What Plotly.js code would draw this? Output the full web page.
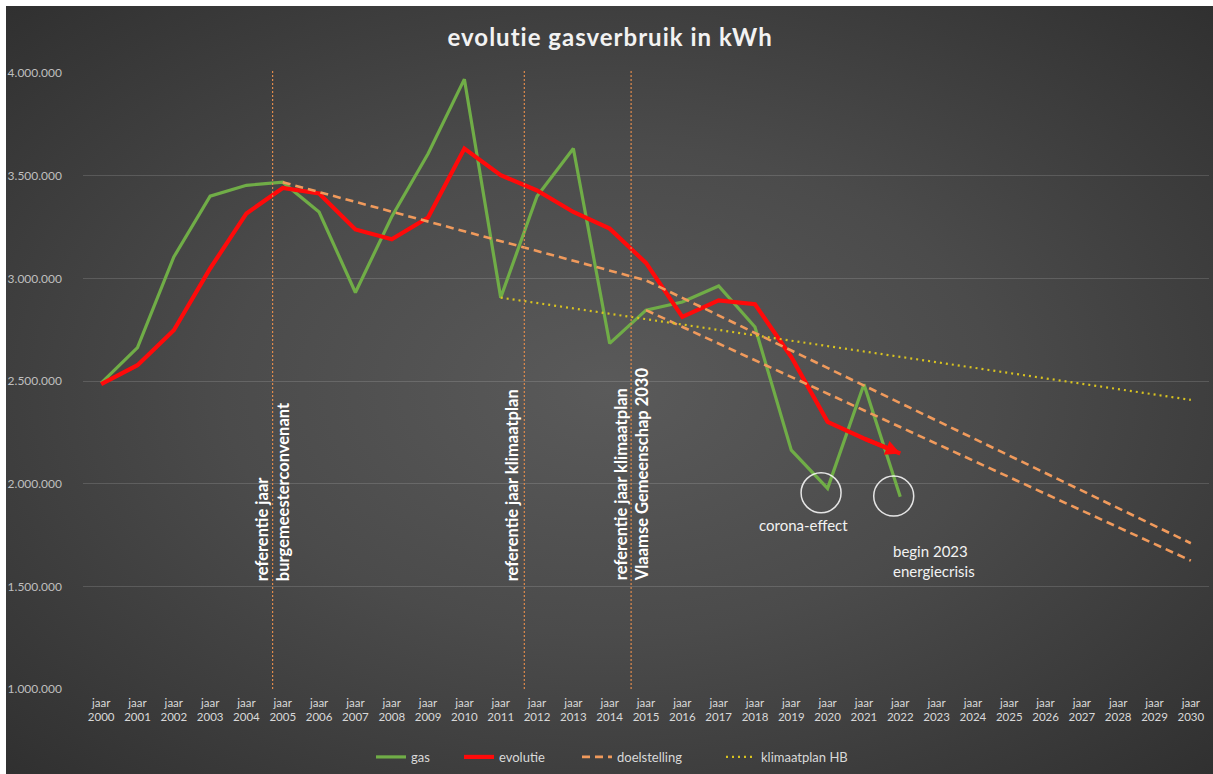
<!DOCTYPE html>
<html><head><meta charset="utf-8">
<script src="https://cdn.plot.ly/plotly-3.0.1.min.js"></script>
<style>
html,body{margin:0;padding:0;background:#fff;width:1213px;height:774px;overflow:hidden}
#bg{position:absolute;left:6px;top:6px;width:1207px;height:768px;background:radial-gradient(ellipse at 50% 50%, #5a5a5a 0%, #4b4b4b 45%, #303030 100%)}
#chart{position:absolute;left:0;top:0;width:1213px;height:774px}
</style></head><body>
<div id="bg"></div><div id="chart"></div>
<script>
// categories
const years = [2000,2001,2002,2003,2004,2005,2006,2007,2008,2009,2010,2011,2012,2013,2014,2015,2016,2017,2018,2019,2020,2021,2022,2023,2024,2025,2026,2027,2028,2029,2030];
const dataYears = [2000,2001,2002,2003,2004,2005,2006,2007,2008,2009,2010,2011,2012,2013,2014,2015,2016,2017,2018,2019,2020,2021,2022];
// series
const gas = [2490000,2663000,3104000,3400000,3453000,3468000,3323000,2931000,3300000,3607000,3970000,2906000,3400000,3632000,2683000,2845000,2885000,2963000,2763000,2163000,1977000,2484000,1936000];
const evolutie = [2485000,2577000,2747000,3048000,3316000,3440000,3413000,3238000,3190000,3296000,3632000,3502000,3428000,3323000,3242000,3075000,2812000,2893000,2874000,2617000,2301000,2220000,2147000];
const doelYearsA = [2005,2015,2030];
const doelA = [3468000,2990000,1710000];
const doelYearsB = [2015,2030];
const doelB = [2845000,1625000];
const klimYears = [2011,2030];
const klim = [2906000,2408000];
// reference year markers
const refYears = [2004.72, 2011.65, 2014.59];
const refTexts = ['referentie jaar<br>burgemeesterconvenant','referentie jaar klimaatplan','referentie jaar klimaatplan<br>Vlaamse Gemeenschap 2030'];
// tick labels
const yTicks = [1000000,1500000,2000000,2500000,3000000,3500000,4000000];
const yTickText = ['1.000.000','1.500.000','2.000.000','2.500.000','3.000.000','3.500.000','4.000.000'];
const xTickText = years.map(y => 'jaar<br>' + y);

const F = 'Lato, "Open Sans", sans-serif';
const RED = '#ff0a0a';
const last = evolutie.length - 1;

const traces = [
  {x: dataYears, y: gas, name: 'gas', mode: 'lines', legend: 'legend', line: {color: '#70ad47', width: 3.2}},
  {x: dataYears, y: evolutie, name: 'evolutie', mode: 'lines', legend: 'legend2', line: {color: RED, width: 4.2}},
  {x: doelYearsA, y: doelA, name: 'doelstelling', mode: 'lines', legend: 'legend3', legendgroup: 'd',
   line: {color: '#f09a5c', width: 2.6, dash: '8px,5px'}},
  {x: doelYearsB, y: doelB, name: 'doelstelling', mode: 'lines', legend: 'legend3', legendgroup: 'd', showlegend: false,
   line: {color: '#f09a5c', width: 2.6, dash: '8px,5px'}},
  {x: klimYears, y: klim, name: 'klimaatplan HB', mode: 'lines', legend: 'legend4',
   line: {color: '#d8c320', width: 2.2, dash: '2px,4px'}}
];

const shapes = refYears.map(x => ({type: 'line', xref: 'x', yref: 'paper', x0: x, x1: x, y0: 0, y1: 1.006,
  line: {color: '#e08a4c', width: 1.2, dash: '2px,2px'}}));
shapes.push({type: 'circle', xref: 'x', yref: 'y', xsizemode: 'pixel', ysizemode: 'pixel',
  xanchor: 2019.82, yanchor: 1955700, x0: -20, x1: 20, y0: -20, y1: 20, line: {color: 'rgba(255,255,255,0.85)', width: 1.5}});
shapes.push({type: 'circle', xref: 'x', yref: 'y', xsizemode: 'pixel', ysizemode: 'pixel',
  xanchor: 2021.82, yanchor: 1939600, x0: -20, x1: 20, y0: -20, y1: 20, line: {color: 'rgba(255,255,255,0.85)', width: 1.5}});

const annFont = {family: F, size: 16.5, color: '#ffffff', weight: 'bold'};
const annotations = [
  {x: refYears[0], y: 1516000, xref: 'x', yref: 'y', text: refTexts[0], textangle: -90, showarrow: false,
   xanchor: 'center', yanchor: 'bottom', align: 'left', font: annFont},
  {x: refYears[1], y: 1516000, xref: 'x', yref: 'y', text: refTexts[1], textangle: -90, showarrow: false,
   xanchor: 'right', yanchor: 'bottom', align: 'left', xshift: 0, font: annFont},
  {x: refYears[2], y: 1516000, xref: 'x', yref: 'y', text: refTexts[2], textangle: -90, showarrow: false,
   xanchor: 'center', yanchor: 'bottom', align: 'left', font: annFont},
  {x: 2019.33, y: 1798000, xref: 'x', yref: 'y', text: 'corona-effect', showarrow: false,
   xanchor: 'center', yanchor: 'middle', font: {family: F, size: 15, color: '#f2f2f2'}},
  {x: 2021.75, y: 1623000, xref: 'x', yref: 'y', text: 'begin 2023<br>energiecrisis', showarrow: false,
   xanchor: 'left', yanchor: 'middle', align: 'left', font: {family: F, size: 15, color: '#f2f2f2'}},
  // arrowhead at the end of the evolutie line
  {x: dataYears[last], y: evolutie[last], ax: dataYears[last-1], ay: evolutie[last-1], xref: 'x', yref: 'y', axref: 'x', ayref: 'y',
   text: '', showarrow: true, arrowhead: 2, arrowsize: 0.7, arrowwidth: 4.2, arrowcolor: RED, standoff: 0}
];

function leg(px) {
  return {orientation: 'h', x: px / 1213, xref: 'container', xanchor: 'left', y: 0.022, yref: 'container', yanchor: 'middle',
    font: {family: F, size: 13, color: '#d9d9d9'}, bgcolor: 'rgba(0,0,0,0)', itemwidth: 30, borderwidth: 0};
}

const layout = {
  width: 1213, height: 774,
  paper_bgcolor: 'rgba(0,0,0,0)', plot_bgcolor: 'rgba(0,0,0,0)',
  margin: {l: 83, r: 4, t: 73, b: 85},
  title: {text: '<span style="letter-spacing:1px">evolutie gasverbruik in kWh</span>', x: 0.503, xref: 'container', y: 0.952, yref: 'container', yanchor: 'middle',
    font: {family: F, size: 24, color: '#f2f2f2', weight: 'bold'}},
  xaxis: {range: [1999.5, 2030.5], tickmode: 'array', tickvals: years, ticktext: xTickText,
    showgrid: false, zeroline: false, showline: false, ticks: '', ticklabelstandoff: 5,
    tickfont: {family: F, size: 11.5, color: '#d9d9d9'}, tickangle: 0},
  yaxis: {range: [1000000, 4000000], tickmode: 'array', tickvals: yTicks, ticktext: yTickText,
    showgrid: true, gridcolor: 'rgba(255,255,255,0.14)', gridwidth: 1, zeroline: false, showline: false, ticks: '',
    ticklabelstandoff: 20,
    tickfont: {family: F, size: 12, color: '#bfbfbf'}},
  showlegend: true,
  legend: leg(371), legend2: leg(459), legend3: leg(577), legend4: leg(721),
  shapes: shapes,
  annotations: annotations
};

Plotly.newPlot('chart', traces, layout, {displayModeBar: false, staticPlot: true});
</script>
</body></html>
